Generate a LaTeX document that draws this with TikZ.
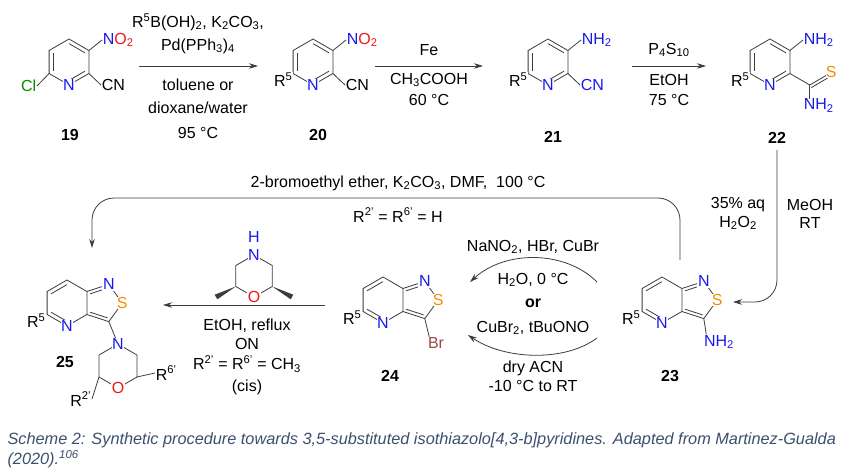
\documentclass[tikz,border=0pt]{standalone}
\usepackage{fontspec}
\setmainfont{Liberation Sans}
\usetikzlibrary{arrows.meta, calc, positioning}
\definecolor{chemN}{RGB}{25,25,235}
\definecolor{chemO}{RGB}{240,20,20}
\definecolor{chemS}{RGB}{250,140,0}
\definecolor{chemCl}{RGB}{0,140,0}
\definecolor{chemBr}{RGB}{150,75,70}
\definecolor{bondgray}{RGB}{60,60,60}
\definecolor{capcol}{RGB}{60,80,110}
\newcommand{\dbl}[3]{\draw[bond] ($(#1)!0.2!(#3)$) -- ($(#2)!0.2!(#3)$);}
\tikzset{
  bond/.style={draw=bondgray, line width=0.8pt},
  atom/.style={fill=white, inner sep=0.6pt},
  rxn/.style={draw=bondgray, line width=0.8pt, -{Stealth[length=9pt,width=5.5pt]}},
  cpd/.style={font=\fontsize{16}{18}\selectfont\bfseries},
}
\begin{document}
\begin{tikzpicture}[x=1pt, y=-1pt, font=\fontsize{16}{18}\selectfont]
	\useasboundingbox[fill=white] (0,0) rectangle (850,468);
	% pyridine rings, top row
	\foreach \m/\cx/\cy in {a/69/62,b/313/62,c/548/62,d/770/62}{
		\coordinate (\m-c) at (\cx,\cy);
		\coordinate (\m-t) at (\cx,\cy-23);
		\coordinate (\m-ur) at (\cx+19.9,\cy-11.5);
		\coordinate (\m-lr) at (\cx+19.9,\cy+11.5);
		\coordinate (\m-b) at (\cx,\cy+23);
		\coordinate (\m-ll) at (\cx-19.9,\cy+11.5);
		\coordinate (\m-ul) at (\cx-19.9,\cy-11.5);
		\draw[bond] (\m-t) -- (\m-ur) -- (\m-lr) -- (\m-b) -- (\m-ll) -- (\m-ul) -- cycle;
		\dbl{\m-ul}{\m-ll}{\m-c}
		\dbl{\m-t}{\m-ur}{\m-c}
		\dbl{\m-lr}{\m-b}{\m-c}
		\node[atom, text=chemN] at (\m-b) {N};
	}
	\foreach \m in {b,c,d}{
		\node[atom, anchor=east] at ($(\m-ll)+(0,6)$) {R\textsuperscript{5}};
	}
	% substituents 19
	\node[atom, anchor=east, text=chemCl] (cl) at (37,86) {Cl};
	\draw[bond] (a-ll) -- (cl.east);
	\node[atom, anchor=west] (no2a) at (102,40) {\textcolor{chemN}{N}\textcolor{chemO}{O\textsubscript{2}}};
	\draw[bond] (a-ur) -- (no2a.west);
	\node[atom, anchor=west] (cna) at (101,85) {CN};
	\draw[bond] (a-lr) -- (cna.west);
	% substituents 20
	\node[atom, anchor=west] (no2b) at (346,40) {\textcolor{chemN}{N}\textcolor{chemO}{O\textsubscript{2}}};
	\draw[bond] (b-ur) -- (no2b.west);
	\node[atom, anchor=west] (cnb) at (345,85) {CN};
	\draw[bond] (b-lr) -- (cnb.west);
	% substituents 21
	\node[atom, anchor=west, text=chemN] (nh2c) at (581,40) {NH\textsubscript{2}};
	\draw[bond] (c-ur) -- (nh2c.west);
	\node[atom, anchor=west, text=chemN] (cnc) at (580,85) {CN};
	\draw[bond] (c-lr) -- (cnc.west);
	% substituents 22
	\node[atom, anchor=west, text=chemN] (nh2d) at (803,40) {NH\textsubscript{2}};
	\draw[bond] (d-ur) -- (nh2d.west);
	\coordinate (d-cs) at (809.8,85);
	\coordinate (d-se) at (826,75.5);
	\node[atom, anchor=west, text=chemS] (sd) at (825,72) {S};
	\draw[bond] (d-lr) -- (d-cs) -- (d-se);
	\draw[bond] ($(d-cs)+(1.5,2.6)$) -- ($(d-se)+(1.5,2.6)$);
	\node[atom, anchor=north west, text=chemN] (nh2e2) at (803,98) {NH\textsubscript{2}};
	\draw[bond] (d-cs) -- (809.8,99);
	% top arrows and reagents
	\coordinate (r1s) at (139,66); \coordinate (r1e) at (258,66);
	\coordinate (r2s) at (375,66); \coordinate (r2e) at (483,66);
	\coordinate (r3s) at (632,66); \coordinate (r3e) at (706,66);
	\draw[rxn] (r1s) -- (r1e);
	\draw[rxn] (r2s) -- (r2e);
	\draw[rxn] (r3s) -- (r3e);
	\node at (198,22) {R\textsuperscript{5}B(OH)\textsubscript{2}, K\textsubscript{2}CO\textsubscript{3},};
	\node at (198,46) {Pd(PPh\textsubscript{3})\textsubscript{4}};
	\node at (198,85) {toluene or};
	\node at (198,108) {dioxane/water};
	\node at (198,133) {95 °C};
	\node at (429,50) {Fe};
	\node at (429,80) {CH\textsubscript{3}COOH};
	\node at (429,100) {60 °C};
	\node at (669,50) {P\textsubscript{4}S\textsubscript{10}};
	\node at (669,80) {EtOH};
	\node at (669,100) {75 °C};
	\node[cpd] at (70,135) {19};
	\node[cpd] at (318,135) {20};
	\node[cpd] at (553,137) {21};
	\node[cpd] at (777,138) {22};
	% fused isothiazolopyridines, bottom row
	\foreach \m/\cx/\cy in {e/662/300,f/383/300,g/67/303}{
		\coordinate (\m-c) at (\cx,\cy);
		\coordinate (\m-t) at (\cx,\cy-23);
		\coordinate (\m-ur) at (\cx+19.9,\cy-11.5);
		\coordinate (\m-lr) at (\cx+19.9,\cy+11.5);
		\coordinate (\m-b) at (\cx,\cy+23);
		\coordinate (\m-ll) at (\cx-19.9,\cy+11.5);
		\coordinate (\m-ul) at (\cx-19.9,\cy-11.5);
		\coordinate (\m-pc) at (\cx+35.7,\cy);
		\coordinate (\m-n1) at (\cx+41.8,\cy-18.6);
		\coordinate (\m-s) at (\cx+55.3,\cy);
		\coordinate (\m-c3) at (\cx+41.8,\cy+18.6);
		\draw[bond] (\m-t) -- (\m-ur) -- (\m-lr) -- (\m-b) -- (\m-ll) -- (\m-ul) -- cycle;
		\draw[bond] (\m-ur) -- (\m-n1) -- (\m-s) -- (\m-c3) -- (\m-lr);
		\dbl{\m-ul}{\m-t}{\m-c}
		\dbl{\m-ll}{\m-b}{\m-c}
		\dbl{\m-ur}{\m-n1}{\m-pc}
		\dbl{\m-lr}{\m-c3}{\m-pc}
		\node[atom, text=chemN] at (\m-b) {N};
		\node[atom, text=chemN] at (\m-n1) {N};
		\node[atom, text=chemS] at (\m-s) {S};
		\node[atom, anchor=east] at ($(\m-ll)+(-1,6)$) {R\textsuperscript{5}};
	}
	% substituents 23 and 24
	\node[atom, text=chemN] (nh2f) at (719,342) {NH\textsubscript{2}};
	\draw[bond] (e-c3) -- ([xshift=3pt]nh2f.north west);
	\node[atom, text=chemBr] (br) at (436,343) {Br};
	\draw[bond] (f-c3) -- ([xshift=2pt]br.north west);
	% morpholine of 25
	\coordinate (m-t) at (118,344);
	\coordinate (m-ur) at (137,355);
	\coordinate (m-lr) at (137,377);
	\coordinate (m-b) at (118,388);
	\coordinate (m-ll) at (99,377);
	\coordinate (m-ul) at (99,355);
	\draw[bond] (g-c3) -- (m-t);
	\draw[bond] (m-t) -- (m-ur) -- (m-lr) -- (m-b) -- (m-ll) -- (m-ul) -- cycle;
	\node[atom, text=chemN] at (m-t) {N};
	\node[atom, text=chemO] at (m-b) {O};
	\node[atom, anchor=west] (r6) at (155,373) {R\textsuperscript{6'}};
	\draw[bond] (m-lr) -- (r6.west);
	\node[atom, anchor=east] (r2) at (92,399) {R\textsuperscript{2'}};
	\draw[bond] (m-ll) -- (r2.east);
	% cis-2,6-dimethylmorpholine reagent
	\coordinate (k-t) at (254,255);
	\coordinate (k-ur) at (272.2,265.5);
	\coordinate (k-lr) at (272.2,286.5);
	\coordinate (k-b) at (254,297);
	\coordinate (k-ll) at (235.8,286.5);
	\coordinate (k-ul) at (235.8,265.5);
	\coordinate (k-me1) at (216,297);
	\coordinate (k-me2) at (292,297);
	\draw[bond] (k-t) -- (k-ur) -- (k-lr) -- (k-b) -- (k-ll) -- (k-ul) -- cycle;
	\fill[bondgray] (k-ll) -- ($(k-me1)+(1.3,2.3)$) -- ($(k-me1)+(-1.3,-2.3)$) -- cycle;
	\fill[bondgray] (k-lr) -- ($(k-me2)+(-1.3,2.3)$) -- ($(k-me2)+(1.3,-2.3)$) -- cycle;
	\node[atom, text=chemN] at (k-t) {N};
	\node[text=chemN, inner sep=0pt] at (254,237) {H};
	\node[atom, text=chemO] at (k-b) {O};
	% bottom arrows and reagents
	\coordinate (r4s) at (325,305); \coordinate (r4e) at (163,305);
	\draw[rxn] (r4s) -- (r4e);
	\node at (247,326) {EtOH, reflux};
	\node at (247,344) {ON};
	\node at (247,364) {R\textsuperscript{2'} = R\textsuperscript{6'} = CH\textsubscript{3}};
	\node at (247,387) {(cis)};
	\coordinate (r5s) at (597,282); \coordinate (r5e) at (470,282);
	\coordinate (r6s) at (597,338); \coordinate (r6e) at (468,335);
	\draw[rxn] (r5s) .. controls (565,250) and (505,250) .. (r5e);
	\draw[rxn] (r6s) .. controls (565,362) and (505,360) .. (r6e);
	\node at (533,247) {NaNO\textsubscript{2}, HBr, CuBr};
	\node at (533,280) {H\textsubscript{2}O, 0 °C};
	\node[font=\fontsize{16}{18}\selectfont\bfseries] at (533,303) {or};
	\node at (533,328) {CuBr\textsubscript{2}, tBuONO};
	\node at (533,368) {dry ACN};
	\node at (533,386) {-10 °C to RT};
	\coordinate (r7s) at (680,260); \coordinate (r7e) at (92,248);
	\draw[rxn, rounded corners=22pt] (r7s) |- (92,198) -- (r7e);
	\node at (398,183) {2-bromoethyl ether, K\textsubscript{2}CO\textsubscript{3}, DMF, \ 100 °C};
	\node at (398,215) {R\textsuperscript{2'} = R\textsuperscript{6'} = H};
	\coordinate (r8s) at (777,150); \coordinate (r8e) at (733,302);
	\draw[rxn, rounded corners=22pt] (r8s) |- (r8e);
	\node at (738,205) {35\% aq};
	\node at (738,223) {H\textsubscript{2}O\textsubscript{2}};
	\node at (810,205) {MeOH};
	\node at (810,223) {RT};
	\node[cpd] at (670,376) {23};
	\node[cpd] at (390,376) {24};
	\node[cpd] at (65,362) {25};
	% caption
	\node[anchor=west, text=capcol, font=\fontsize{16.3}{18}\selectfont\itshape] at (4,440) {Scheme 2: Synthetic procedure towards 3,5-substituted isothiazolo[4,3-b]pyridines. Adapted from Martinez-Gualda};
	\node[anchor=west, text=capcol, font=\fontsize{16.3}{18}\selectfont\itshape] at (4,459) {(2020).\textsuperscript{106}};
\end{tikzpicture}
\end{document}
